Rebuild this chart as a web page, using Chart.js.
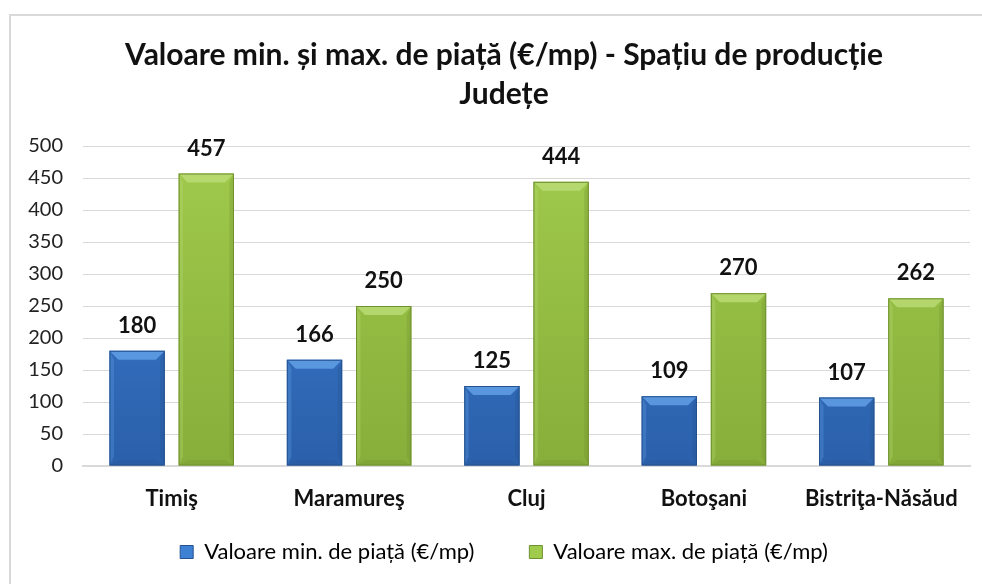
<!DOCTYPE html>
<html>
<head>
<meta charset="utf-8">
<script src="https://cdn.jsdelivr.net/npm/chart.js@4"></script>
<style>
  html, body { margin: 0; padding: 0; background: #fff; }
  #wrap { width: 982px; height: 584px; position: relative; }
</style>
</head>
<body>
<div id="wrap"><canvas id="chart" width="982" height="584"></canvas></div>
<script>
// date
const judete = ['Timiş', 'Maramureş', 'Cluj', 'Botoşani', 'Bistriţa-Năsăud'];
const valMin = [180, 166, 125, 109, 107];
const valMax = [457, 250, 444, 270, 262];
const yTicks = [0, 50, 100, 150, 200, 250, 300, 350, 400, 450, 500];

const FONT = 'Lato, "Open Sans", sans-serif';
const LEGEND_GAP = '        ';

const BLUE = { light: '#64a3e8', mid: '#3d80d4', dark: '#2b60ab', edge: '#24528f' };
const GREEN = { light: '#bbdc78', mid: '#a0cb4c', dark: '#87ae3a', edge: '#6f9030' };

function barGradient(ctx, pal) {
    const chart = ctx.chart;
    const area = chart.chartArea;
    if (!area) return pal.mid;
    const g = chart.ctx.createLinearGradient(0, area.top, 0, area.bottom);
    g.addColorStop(0, pal.mid);
    g.addColorStop(1, pal.dark);
    return g;
}

// chenarul graficului + centrarea titlului si a legendei
const chartBorder = {
    id: 'chartBorder',
    afterLayout(chart) {
        if (chart.titleBlock) chart.titleBlock.left += 13;
        if (chart.legend) chart.legend.left += 13;
    },
    beforeDraw(chart) {
        const c = chart.ctx;
        c.save();
        c.fillStyle = '#fff';
        c.fillRect(0, 0, chart.width, chart.height);
        c.strokeStyle = '#d9d9d9';
        c.lineWidth = 2;
        c.strokeRect(10, 15, chart.width + 20, chart.height + 20);
        c.restore();
    }
};

// efect de bizou (bevel) pe bare + etichete cu valori
const bevelAndLabels = {
    id: 'bevelAndLabels',
    afterDatasetsDraw(chart) {
        const c = chart.ctx;
        chart.data.datasets.forEach((ds, di) => {
            const meta = chart.getDatasetMeta(di);
            const pal = di === 0 ? BLUE : GREEN;
            meta.data.forEach((bar, i) => {
                const p = bar.getProps(['x', 'y', 'base', 'width'], true);
                const l = p.x - p.width / 2, r = p.x + p.width / 2;
                const t = p.y, b = p.base;
                const bv = Math.min(9, (b - t) / 3);
                c.save();
                // sus
                c.globalAlpha = 0.8;
                c.fillStyle = pal.light;
                c.beginPath();
                c.moveTo(l, t); c.lineTo(r, t); c.lineTo(r - bv, t + bv); c.lineTo(l + bv, t + bv);
                c.closePath(); c.fill();
                // stanga
                c.globalAlpha = 0.3;
                c.beginPath();
                c.moveTo(l, t); c.lineTo(l + bv * 0.5, t + bv); c.lineTo(l + bv * 0.5, b - bv); c.lineTo(l, b);
                c.closePath(); c.fill();
                // dreapta
                c.fillStyle = pal.edge;
                c.beginPath();
                c.moveTo(r, t); c.lineTo(r - bv * 0.5, t + bv); c.lineTo(r - bv * 0.5, b - bv); c.lineTo(r, b);
                c.closePath(); c.fill();
                // jos
                c.globalAlpha = 0.25;
                c.beginPath();
                c.moveTo(l, b); c.lineTo(r, b); c.lineTo(r - bv, b - bv * 0.6); c.lineTo(l + bv, b - bv * 0.6);
                c.closePath(); c.fill();
                c.globalAlpha = 1;
                c.strokeStyle = pal.edge;
                c.lineWidth = 1;
                c.strokeRect(l + 0.5, t + 0.5, p.width - 1, b - t - 1);
                c.restore();

                // valoare
                c.save();
                c.font = 'bold 22px ' + FONT;
                c.fillStyle = '#111';
                c.textAlign = 'center';
                c.textBaseline = 'middle';
                c.fillText(String(ds.data[i]), p.x, t - 25);
                c.restore();
            });
        });
    }
};

new Chart(document.getElementById('chart'), {
    type: 'bar',
    data: {
        labels: judete,
        datasets: [
            {
                label: 'Valoare min. de piață (€/mp)',
                data: valMin,
                backgroundColor: (ctx) => barGradient(ctx, BLUE),
                borderWidth: 0,
                categoryPercentage: 0.78,
                barPercentage: 0.8
            },
            {
                label: 'Valoare max. de piață (€/mp)',
                data: valMax,
                backgroundColor: (ctx) => barGradient(ctx, GREEN),
                borderWidth: 0,
                categoryPercentage: 0.78,
                barPercentage: 0.8
            }
        ]
    },
    options: {
        responsive: false,
        animation: false,
        devicePixelRatio: 1,
        layout: { padding: { left: 25, right: 12, top: 16, bottom: 11 } },
        plugins: {
            title: {
                display: true,
                text: ['Valoare min. și max. de piață (€/mp) - Spațiu de producție', 'Județe'],
                color: '#111',
                font: { family: FONT, size: 30, weight: 'bold', lineHeight: 1.3 },
                padding: { top: 20, bottom: 32 }
            },
            legend: {
                position: 'bottom',
                labels: {
                    color: '#222',
                    font: { family: FONT, size: 22 },
                    boxWidth: 13,
                    boxHeight: 13,
                    padding: 10,
                    generateLabels: (chart) => chart.data.datasets.map((ds, i) => ({
                        text: i === 0 ? ds.label + LEGEND_GAP : ds.label,
                        fillStyle: i === 0 ? BLUE.mid : GREEN.mid,
                        strokeStyle: i === 0 ? BLUE.edge : GREEN.edge,
                        lineWidth: 1,
                        datasetIndex: i
                    }))
                }
            },
            tooltip: { enabled: false }
        },
        scales: {
            x: {
                afterFit: (axis) => { axis.height = 65; },
                grid: { display: false, drawTicks: false },
                border: { color: '#d9d9d9', width: 2 },
                ticks: {
                    color: '#111',
                    font: { family: FONT, size: 22, weight: 'bold' },
                    padding: 20
                }
            },
            y: {
                min: 0,
                max: 500,
                afterFit: (axis) => { axis.width = 58; },
                afterBuildTicks: (axis) => { axis.ticks = yTicks.map(v => ({ value: v })); },
                grid: { color: '#d9d9d9', lineWidth: 1, drawTicks: false },
                border: { display: false },
                ticks: {
                    color: '#222',
                    font: { family: FONT, size: 20 },
                    padding: 20
                }
            }
        }
    },
    plugins: [chartBorder, bevelAndLabels]
});
</script>
</body>
</html>
